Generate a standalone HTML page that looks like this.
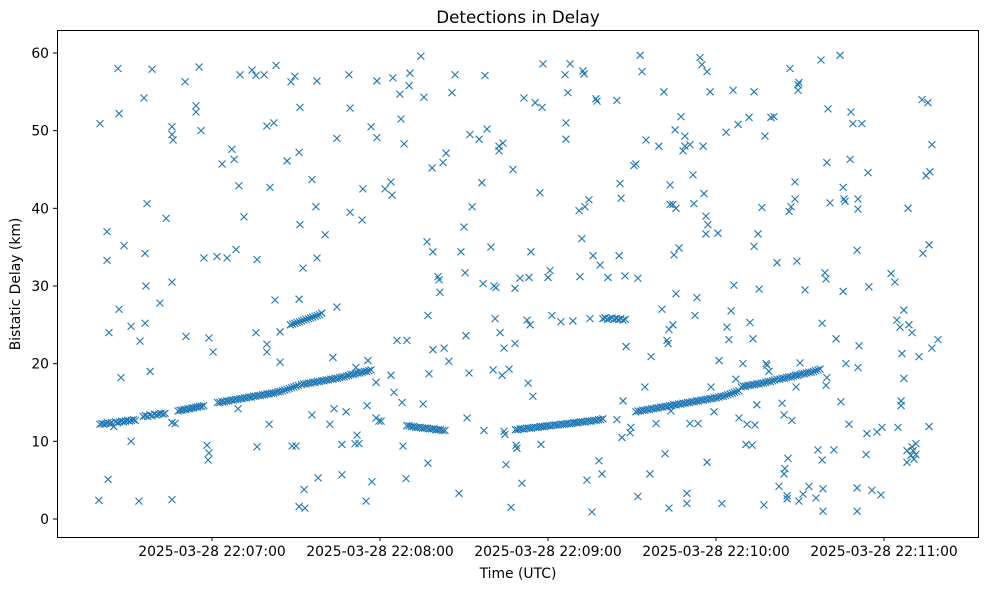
<!DOCTYPE html>
<html><head><meta charset="utf-8"><style>
html,body{margin:0;padding:0;background:#fff;}
svg{display:block;font-family:"DejaVu Sans","Liberation Sans",sans-serif;}
</style></head><body>
<svg id="chart" width="989" height="590" viewBox="0 0 989 590" xmlns="http://www.w3.org/2000/svg">
<rect x="0" y="0" width="989" height="590" fill="#fff"/>
<text x="518" y="23" font-size="16.7" text-anchor="middle" fill="#000">Detections in Delay</text>
<g id="marks"></g>
<rect x="57.5" y="30.5" width="921" height="507" fill="none" stroke="#000" stroke-width="1"/>
<g id="xaxis"></g>
<g id="yaxis"></g>
<text x="518" y="578" font-size="13.9" text-anchor="middle">Time (UTC)</text>
<text x="20" y="284" font-size="13.9" text-anchor="middle" transform="rotate(-90 20 284)">Bistatic Delay (km)</text>
</svg>
<script>
// time in seconds after 2025-03-28 22:06:00 UTC, delay in km
const xTickSeconds = [60, 120, 180, 240, 300];
const xTickLabels = ["2025-03-28 22:07:00","2025-03-28 22:08:00","2025-03-28 22:09:00","2025-03-28 22:10:00","2025-03-28 22:11:00"];
const yTicks = [0, 10, 20, 30, 40, 50, 60];

const noise = [[19.6,2.4],[20,50.9],[22.5,37],[22.5,33.3],[22.9,5.1],[23.2,24],[26.4,58],[26.8,52.2],[26.8,27],[27.5,18.2],[28.6,35.2],[31.1,10],[31.1,24.8],[33.9,2.3],[34.3,22.9],[35.7,54.2],[36.1,34.2],[36.1,25.2],[36.4,30],[36.8,40.6],[37.9,19],[38.6,57.9],[41.4,27.8],[43.6,38.7],[45.7,30.5],[45.7,50.5],[45.7,49.5],[46.1,48.8],[45.7,2.5],[45.7,12.4],[46.8,12.3],[50.4,56.3],[50.7,23.5],[54.3,53.2],[54.3,52.4],[55.4,58.2],[56.1,50],[57.1,33.6],[58.2,9.5],[58.6,7.6],[58.9,8.5],[58.9,23.3],[60.4,21.5],[61.8,33.8],[63.6,45.7],[65.4,33.6],[67.1,47.6],[67.9,46.3],[68.6,34.7],[69.3,14.2],[69.6,42.9],[70,57.2],[71.4,38.9],[74.3,57.8],[75.7,57.1],[76.1,33.4],[75.7,24],[76.1,9.3],[78.6,57.2],[79.6,21.5],[79.6,22.5],[79.6,50.6],[80.4,12.2],[80.7,42.7],[82.1,51],[82.5,28.2],[82.9,58.4],[84.3,20.2],[84.3,24.1],[86.8,46.1],[88.2,56.3],[88.6,9.4],[89.6,57],[90,9.4],[91.1,47.2],[91.1,1.6],[91.1,28.3],[91.4,53],[91.4,37.9],[92.5,32.3],[92.9,3.8],[93.2,1.4],[95.7,43.7],[95.7,13.4],[97.1,40.2],[97.5,33.6],[97.5,56.4],[97.9,5.3],[100.4,36.6],[102.1,12.2],[103.2,20.8],[103.6,14.2],[104.6,27.3],[104.6,49],[106.4,5.7],[106.4,9.6],[107.9,13.8],[108.9,57.2],[109.3,52.9],[109.3,39.5],[111.1,9.7],[111.4,19.5],[111.8,10.8],[112.5,9.7],[113.6,38.5],[113.9,42.5],[115,2.3],[115.4,14.6],[115.7,20.4],[116.8,50.5],[117.1,4.8],[118.6,17.6],[118.9,56.4],[118.9,49.1],[118.6,13],[119.6,12.6],[120.4,12.6],[121.8,42.5],[123.9,43.4],[123.9,18.5],[124.3,41.7],[124.6,56.8],[125,16.3],[126.1,23],[127.1,54.7],[127.5,51.5],[127.9,15],[128.2,9.4],[128.6,48.3],[129.3,5.2],[129.6,23],[130.4,55.8],[130.7,57.4],[134.6,59.6],[135.4,14.8],[135.7,54.3],[136.8,35.7],[137.1,26.2],[137.1,7.2],[137.5,18.7],[138.6,45.2],[138.9,34.4],[138.9,21.8],[140.7,31.2],[141.4,29.2],[141.1,30.8],[142.5,45.9],[142.9,22],[143.6,47.1],[144.6,20.3],[145.7,54.9],[146.8,57.2],[148.2,3.3],[148.9,34.4],[150,37.6],[150.4,31.7],[150.7,23.6],[151.1,13],[151.8,18.8],[152.1,49.5],[152.9,40.2],[155.4,48.9],[156.4,43.3],[156.8,30.3],[157.1,11.4],[157.5,57.1],[158.2,50.2],[159.6,35],[160.4,19.2],[160.7,30],[161.1,25.8],[161.4,29.8],[162.5,48],[162.5,47.4],[162.9,24],[163.6,18.5],[163.9,48.4],[164.3,11.3],[164.3,22],[164.6,10.9],[165,7],[166.1,19.3],[166.8,1.5],[167.5,45],[168.2,22.6],[168.2,29.7],[168.6,9.5],[168.9,9.1],[170,31],[170.7,4.6],[171.4,54.2],[172.5,25.6],[172.9,17.5],[173.2,31.1],[173.6,25],[173.9,34.4],[174.6,15.8],[175.4,53.6],[177.1,42],[177.5,9.6],[177.9,53],[178.2,58.6],[180,31.1],[180.7,32],[181.4,26.2],[184.6,25.4],[186.1,57.2],[186.4,48.9],[186.4,51],[187.1,54.9],[187.9,58.6],[188.9,25.5],[191.1,39.7],[191.4,31.2],[192.1,36.1],[192.5,57.7],[192.9,57.3],[193.2,40.2],[193.9,5],[194.6,41.1],[195,25.8],[195.7,0.9],[196.1,33.9],[197.1,54.1],[197.5,53.8],[198.2,7.5],[198.6,32.7],[199.3,5.8],[201.4,31.1],[204.6,53.9],[204.6,12.8],[205.4,33.9],[205.7,43.2],[206.1,41.3],[206.4,10.5],[206.8,15.2],[207.5,31.3],[207.9,22.2],[209.3,11.1],[209.6,11.8],[210.7,45.5],[211.4,45.7],[212.1,31],[212.1,2.9],[212.9,59.7],[213.6,57.6],[214.6,17],[215,48.8],[216.4,5.8],[216.8,20.9],[218.6,12.3],[219.6,48],[220.7,27],[221.4,55],[221.8,8.4],[222.5,23],[222.9,22.6],[223.2,1.4],[223.2,24.4],[223.6,43],[223.6,40.5],[223.9,13.9],[224.6,25],[224.6,40.5],[225,34],[225.4,50.1],[225.7,40],[225.7,29],[226.8,34.9],[227.5,51.8],[228.2,47.4],[228.9,49.3],[228.9,48],[229.6,3.3],[229.6,2],[230.7,12.3],[230.7,48.2],[231.8,44.3],[232.1,40.6],[232.5,26.2],[233.2,28.5],[233.6,12.3],[234.3,59.4],[235,58.5],[235.4,48],[235.7,41.9],[236.4,39],[236.8,57.6],[236.4,36.7],[236.8,7.3],[237.1,37.9],[237.9,55],[238.2,17],[239.3,13.8],[240.7,36.8],[241.1,20.4],[242.1,2],[243.6,49.8],[243.9,24.7],[244.6,23.1],[245.4,26.8],[246.1,55.2],[246.4,30.1],[247.1,18],[247.9,50.8],[248.2,13],[249.6,20],[250.7,9.6],[251.1,12.2],[251.8,51.7],[252.1,25.3],[252.9,9.5],[253.2,23.2],[253.6,55],[253.6,35.1],[253.9,12.1],[254.6,14.7],[255,36.7],[255.4,29.6],[256.4,40.1],[257.1,1.8],[257.5,49.3],[257.9,20],[258.2,19.8],[258.9,19],[259.6,51.7],[260.7,51.8],[261.8,33],[262.5,4.2],[263.6,14.9],[264.3,13.4],[264.6,6.5],[264.3,5.8],[265.4,2.6],[265.4,3],[265.7,7.8],[266.1,39.6],[266.4,58],[266.8,40.2],[267.1,12.7],[268.2,43.4],[268.2,41.2],[268.6,17],[268.9,33.2],[269.3,55.2],[269.3,55.9],[269.6,56.2],[269.6,2.3],[270,20.1],[271.1,3.2],[271.8,29.5],[273.2,4.2],[275.7,2.7],[276.4,8.9],[277.5,59.1],[277.9,25.2],[277.9,7.6],[278.2,1],[278.2,3.9],[278.9,31.7],[279.3,17.2],[279.3,30.9],[279.6,18.2],[279.6,45.9],[280,52.8],[280.7,40.7],[282.1,8.9],[282.9,23.2],[284.3,59.7],[284.6,15.1],[285.4,29.3],[285.4,42.7],[285.7,41.2],[286.1,40.9],[286.4,20],[287.9,46.3],[287.5,12.2],[288.2,52.4],[288.9,50.9],[290.4,1],[290.4,4],[290.4,34.6],[290.7,41.2],[290.7,39.9],[290.7,19.5],[291.1,22.3],[292.1,50.9],[293.6,8.3],[293.9,11],[294.3,44.6],[294.6,29.9],[295.7,3.7],[297.5,11.2],[298.9,3.1],[299.3,11.8],[302.5,31.6],[303.9,30.5],[304.6,25.6],[305,11.8],[305.7,24.7],[306.1,15.2],[306.1,14.6],[306.4,21.3],[307.1,18.1],[307.1,26.9],[308.2,7.3],[308.2,8.8],[308.6,40],[308.9,25],[309.6,8.2],[310,24],[310,9.3],[310.4,8.8],[310.7,7.7],[311.4,8.3],[311.4,9.7],[312.5,20.9],[313.6,54],[313.9,34.2],[315,44.2],[315.7,53.6],[316.1,11.9],[316.1,35.3],[316.4,44.7],[317.1,48.2],[317.1,22],[319.3,23.1]];

const track1Times = [20,20.7,21.4,22.1,22.8,23.5,24.2,24.9,25.6,26.3,27,27.7,28.4,29.1,29.8,30.5,31.2,31.9,32.6];
const track1Delays = [12.2,12.3,12.2,12.3,12.4,12.3,12.4,11.9,12.5,12.4,12.5,12.6,12.5,12.6,12.7,12.6,12.7,12.8,12.7];
const track2Times = [35.4,36.2,37,37.8,38.6,39.4,40.2,41,41.8,42.6,43.2];
const track2Delays = [13.2,13.3,13.2,13.4,13.3,13.5,13.4,13.5,13.6,13.5,13.6];
const track3Times = [47.9,48.6,49.3,50,50.7,51.4,52.1,52.8,53.5,54.2,54.9,55.6,56.3,57];
const track3Delays = [13.9,14,14,14.1,14.1,14.2,14.2,14.3,14.3,14.4,14.4,14.5,14.5,14.6];
const track4Times = [62,62.8,63.6,64.4,65.2,66,66.8,67.6,68.4,69.2,70,70.8,71.6,72.4,73.2,74,74.8,75.6,76.4,77.2,78,78.8,79.6,80.4,81.2,82,82.8,83.6,84.4,85.2,86,86.8,87.6,88.4,89.2,90,90.8];
const track4Delays = [15,15,15.1,15.1,15.2,15.2,15.3,15.3,15.4,15.4,15.5,15.5,15.6,15.6,15.7,15.7,15.8,15.8,15.9,15.9,16,16,16.1,16.1,16.2,16.2,16.3,16.4,16.4,16.5,16.6,16.7,16.8,16.9,17,17.1,17.2];
const track5Times = [92,92.8,93.6,94.4,95.2,96,96.8,97.6,98.4,99.2,100,100.8,101.6,102.4,103.2,104,104.8,105.6,106.4,107.2,108,108.8,109.6,110.4,111.2,112,112.8,113.6,114.4,115.2,116,116.8];
const track5Delays = [17.3,17.4,17.4,17.5,17.5,17.6,17.6,17.7,17.7,17.8,17.8,17.9,17.9,18,18,18.1,18.1,18.2,18.3,18.3,18.4,18.5,18.6,18.6,18.7,18.8,18.8,18.9,19,19,19.1,19.2];
const track6Times = [88,88.8,89.6,90.4,91.2,92,92.8,93.6,94.4,95.2,96,96.8,97.6,98.4,99.2];
const track6Delays = [25,25.1,25.2,25.3,25.4,25.5,25.6,25.7,25.8,25.9,26,26.1,26.2,26.3,26.5];
const track7Times = [129.6,130.4,131.2,132,132.8,133.6,134.4,135.2,136,136.8,137.6,138.4,139.2,140,140.8,141.6,142.4,143.2];
const track7Delays = [12,12,11.9,11.9,11.8,11.8,11.8,11.7,11.7,11.7,11.6,11.6,11.6,11.5,11.5,11.5,11.4,11.4];
const track8Times = [168.4,169.2,170,170.8,171.6,172.4,173.2,174,174.8,175.6,176.4,177.2,178,178.8,179.6,180.4,181.2,182,182.8,183.6,184.4,185.2,186,186.8,187.6,188.4,189.2,190,190.8,191.6,192.4,193.2,194,194.8,195.6,196.4,197.2,198,198.8,199.6];
const track8Delays = [11.5,11.5,11.6,11.6,11.6,11.7,11.7,11.7,11.8,11.8,11.8,11.9,11.9,11.9,12,12,12,12.1,12.1,12.1,12.2,12.2,12.2,12.3,12.3,12.3,12.4,12.4,12.4,12.5,12.5,12.5,12.6,12.6,12.6,12.7,12.7,12.8,12.8,12.9];
const track9Times = [199.6,200.4,201.2,202,202.8,203.6,204.4,205.2,206,206.8,207.6];
const track9Delays = [25.8,25.9,25.7,25.8,25.9,25.7,25.8,25.7,25.8,25.6,25.7];
const track10Times = [211.4,212.2,213,213.8,214.6,215.4,216.2,217,217.8,218.6,219.4,220.2,221,221.8,222.6,223.4,224.2,225,225.8,226.6,227.4,228.2,229,229.8,230.6,231.4,232.2,233,233.8,234.6,235.4,236.2,237,237.8,238.6,239.4,240.2,241,241.8,242.6,243.4,244.2,245,245.8,246.6,247.4,248.2];
const track10Delays = [13.8,13.9,13.9,14,14,14.1,14.1,14.2,14.2,14.3,14.3,14.4,14.4,14.5,14.5,14.6,14.6,14.7,14.7,14.8,14.8,14.9,14.9,15,15,15.1,15.1,15.2,15.2,15.3,15.3,15.4,15.4,15.5,15.5,15.6,15.6,15.7,15.8,15.8,15.9,16,16.1,16.2,16.3,16.4,16.5];
const track11Times = [249,249.8,250.6,251.4,252.2,253,253.8,254.6,255.4,256.2,257,257.8,258.6,259.4,260.2,261,261.8];
const track11Delays = [17,17.1,17.1,17.2,17.2,17.3,17.3,17.4,17.4,17.5,17.5,17.6,17.7,17.7,17.8,17.9,18];
const track12Times = [262.8,263.6,264.4,265.2,266,266.8,267.6,268.4,269.2,270,270.8,271.6,272.4,273.2,274,274.8,275.6,276.4,277.2];
const track12Delays = [18,18.1,18.1,18.2,18.3,18.3,18.4,18.5,18.5,18.6,18.7,18.7,18.8,18.9,18.9,19,19.1,19.2,19.3];

const xScale = t => 212 + (t - 60) * 2.8;
const yScale = d => 519 - d * 7.767;
const NS = "http://www.w3.org/2000/svg";
const marks = document.getElementById("marks");
function drawX(t, d, name) {
  const cx = xScale(t), cy = yScale(d), h = 3.5;
  const p = document.createElementNS(NS, "path");
  p.setAttribute("d", `M${cx-h},${cy-h}L${cx+h},${cy+h}M${cx-h},${cy+h}L${cx+h},${cy-h}`);
  p.setAttribute("stroke", "#1f77b4");
  p.setAttribute("stroke-width", "1.1");
  p.setAttribute("fill", "none");
  
  
  marks.appendChild(p);
}
noise.forEach(pt => drawX(pt[0], pt[1], "detection-point"));
const tracks = [[track1Times,track1Delays],[track2Times,track2Delays],[track3Times,track3Delays],[track4Times,track4Delays],[track5Times,track5Delays],[track6Times,track6Delays],[track7Times,track7Delays],[track8Times,track8Delays],[track9Times,track9Delays],[track10Times,track10Delays],[track11Times,track11Delays],[track12Times,track12Delays]];
tracks.forEach(tr => tr[0].forEach((t, i) => drawX(t, tr[1][i], "track-point")));

const xa = document.getElementById("xaxis");
xTickSeconds.forEach((s, i) => {
  const x = xScale(s);
  const l = document.createElementNS(NS, "line");
  l.setAttribute("x1", x); l.setAttribute("x2", x); l.setAttribute("y1", 537); l.setAttribute("y2", 541);
  l.setAttribute("stroke", "#000");
  
  
  xa.appendChild(l);
  const tx = document.createElementNS(NS, "text");
  tx.setAttribute("x", x); tx.setAttribute("y", 556); tx.setAttribute("font-size", "13.9"); tx.setAttribute("text-anchor", "middle");
  tx.textContent = xTickLabels[i];
  
  
  xa.appendChild(tx);
});
const ya = document.getElementById("yaxis");
yTicks.forEach(v => {
  const y = yScale(v);
  const l = document.createElementNS(NS, "line");
  l.setAttribute("x1", 53); l.setAttribute("x2", 57); l.setAttribute("y1", y); l.setAttribute("y2", y);
  l.setAttribute("stroke", "#000");
  
  
  ya.appendChild(l);
  const tx = document.createElementNS(NS, "text");
  tx.setAttribute("x", 49); tx.setAttribute("y", y + 5); tx.setAttribute("font-size", "13.9"); tx.setAttribute("text-anchor", "end");
  tx.textContent = String(v);
  
  
  ya.appendChild(tx);
});
</script>
</body></html>
